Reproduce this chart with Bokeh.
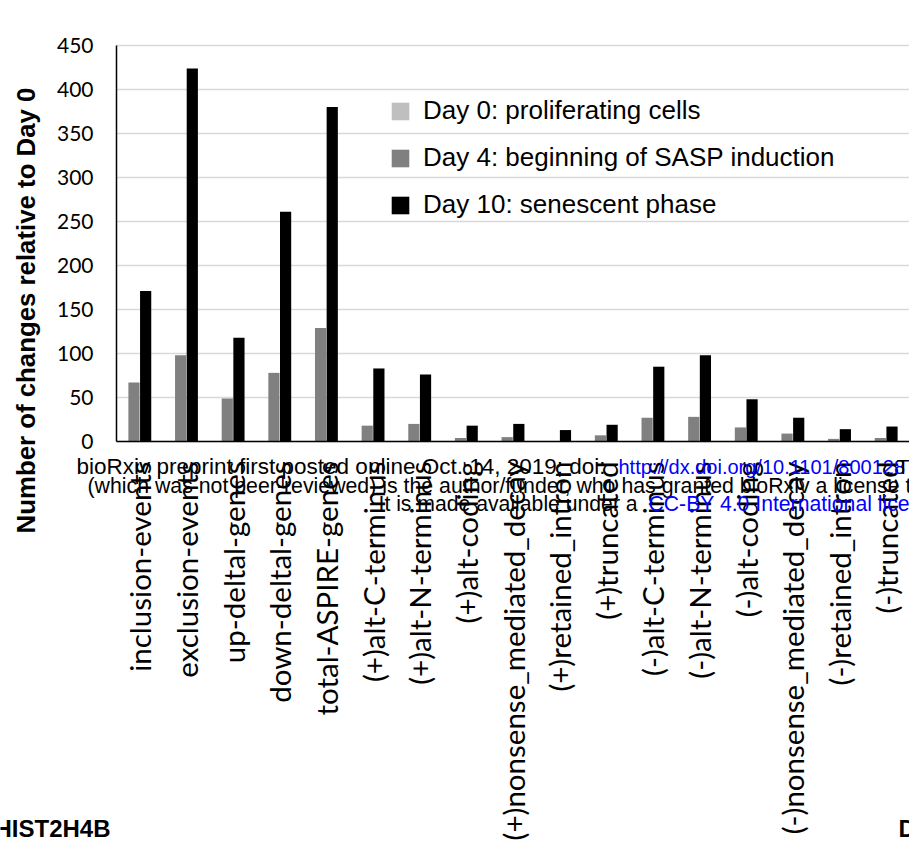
from bokeh.plotting import figure
from bokeh.models import Range1d, FixedTicker, Legend, LegendItem, Label, ColumnDataSource
from bokeh.transform import dodge
from bokeh.embed import file_html
from bokeh.resources import INLINE
import math

# Event / gene categories on the horizontal axis
categories = [
    "inclusion-events", "exclusion-events", "up-deltal-genes", "down-deltal-genes",
    "total-ASPIRE-genes", "(+)alt-C-terminus", "(+)alt-N-terminus", "(+)alt-coding",
    "(+)nonsense_mediated_decay", "(+)retained_intron", "(+)truncated",
    "(-)alt-C-terminus", "(-)alt-N-terminus", "(-)alt-coding",
    "(-)nonsense_mediated_decay", "(-)retained_intron", "(-)truncated",
]

# Number of changes relative to Day 0, per time point
day0 = [0, 0, 0, 0, 0, 0, 0, 0, 0, 0, 0, 0, 0, 0, 0, 0, 0]
day4 = [67, 98, 49, 78, 129, 18, 20, 4, 5, 0, 7, 27, 28, 16, 9, 3, 4]
day10 = [171, 424, 118, 261, 380, 83, 76, 18, 20, 13, 19, 85, 98, 48, 27, 14, 17]

series_labels = [
    "Day 0: proliferating cells",
    "Day 4: beginning of SASP induction",
    "Day 10: senescent phase",
]
y_ticks = [0, 50, 100, 150, 200, 250, 300, 350, 400, 450]

n = len(categories)
idx = list(range(n))
source = ColumnDataSource(dict(x=idx, d0=day0, d4=day4, d10=day10))

# Page geometry: the plotting frame covers the whole page so that the
# annotation texts around the chart are not clipped; the axes sit at fixed
# positions inside it.
W, H = 909, 854
AX_LEFT, AX_ZERO = 116, 441          # pixel position of the y axis and of y = 0
STEP = (W - AX_LEFT) / n             # pixels per category
PX_PER_UNIT = 0.88                   # pixels per count on the y axis

x_start = -0.5 - AX_LEFT / STEP
x_end = -0.5 + (W - AX_LEFT) / STEP
y_top = AX_ZERO / PX_PER_UNIT
y_bottom = -(H - AX_ZERO) / PX_PER_UNIT

p = figure(
    x_range=Range1d(x_start, x_end), y_range=Range1d(y_bottom, y_top),
    frame_width=W, frame_height=H, min_border=0,
    output_backend="svg", toolbar_location=None,
)
p.outline_line_color = None
p.background_fill_color = "white"
p.border_fill_color = "white"
p.xgrid.grid_line_color = None
p.ygrid.grid_line_color = None

# Horizontal gridlines across the plotting area only
p.segment(x0=-0.5, x1=n - 0.5, y0=y_ticks, y1=y_ticks,
          line_color="#D9D9D9", line_width=1.5)

bar_w = 0.24
r0 = p.vbar(x=dodge("x", -0.375), top="d0", width=bar_w,
            source=source, fill_color="#BFBFBF", line_color=None)
r4 = p.vbar(x=dodge("x", -0.125), top="d4", width=bar_w,
            source=source, fill_color="#808080", line_color=None)
r10 = p.vbar(x=dodge("x", 0.125), top="d10", width=bar_w,
             source=source, fill_color="#000000", line_color=None)

# Value axis
yax = p.yaxis[0]
yax.fixed_location = -0.5
yax.bounds = (0, 450)
yax.ticker = FixedTicker(ticks=y_ticks)
yax.major_label_text_font = "Lato"
yax.major_label_text_font_size = "21px"
yax.major_label_text_color = "black"
yax.major_label_standoff = 23
yax.major_tick_line_color = None
yax.minor_tick_line_color = None
yax.major_tick_out = 0
yax.major_tick_in = 0
yax.axis_line_color = "black"
yax.axis_line_width = 1.5

# Category axis
xax = p.xaxis[0]
xax.fixed_location = 0
xax.bounds = (-0.5, n - 0.5)
xax.ticker = FixedTicker(ticks=idx)
xax.major_label_overrides = {i: c for i, c in zip(idx, categories)}
xax.major_label_orientation = math.pi / 2
xax.major_label_text_font = "Lato"
xax.major_label_text_font_size = "29.5px"
xax.major_label_text_color = "black"
xax.major_label_standoff = 20
xax.major_tick_line_color = None
xax.minor_tick_line_color = None
xax.major_tick_out = 0
xax.major_tick_in = 0
xax.axis_line_color = "black"
xax.axis_line_width = 1.5

# Legend
legend = Legend(
    items=[LegendItem(label=series_labels[0], renderers=[r0]),
           LegendItem(label=series_labels[1], renderers=[r4]),
           LegendItem(label=series_labels[2], renderers=[r10])],
    location=(389, 634),
    label_text_font="Liberation Sans", label_text_font_size="26px",
    label_text_color="black",
    glyph_width=22, glyph_height=22, label_height=22, label_standoff=12,
    spacing=16, padding=0, margin=0,
    border_line_color=None, background_fill_alpha=0,
)
p.add_layout(legend)


def px_x(px):
    return x_start + px / STEP


def px_y(py):
    return (AX_ZERO - py) / PX_PER_UNIT


def note(px, py, text, color="black", size="20px", style="normal",
         align="left", angle=0.0):
    p.add_layout(Label(x=px_x(px), y=px_y(py), text=text, text_color=color,
                       text_font="Liberation Sans", text_font_size=size,
                       text_font_style=style, text_align=align, angle=angle,
                       text_baseline="alphabetic"))


# Value axis title
note(25, 310, "Number of changes relative to Day 0", size="25.8px",
     style="bold", align="center", angle=math.pi / 2)

# Preprint banner lines running across the lower area
note(76, 466, "bioRxiv preprint first posted online Oct. 14, 2019; doi:", size="22.5px")
note(618, 466, "http://dx.doi.org/10.1101/800128", color="#0000FF", size="20px")
note(885, 466, ". T", size="21px")
note(87, 485, "(which was not peer-reviewed) is the author/funder, who has granted bioRxiv a license t",
     size="21.3px")
note(378, 503, "It is made available under a", size="21.2px")
note(648, 503, "CC-BY 4.0 International lice", color="#0000FF", size="21.2px")

# Panel captions
note(110, 828, "HIST2H4B", size="24px", style="bold", align="right")
note(898, 828, "D", size="24px", style="bold")

open("out.html", "w").write(file_html(p, INLINE))
